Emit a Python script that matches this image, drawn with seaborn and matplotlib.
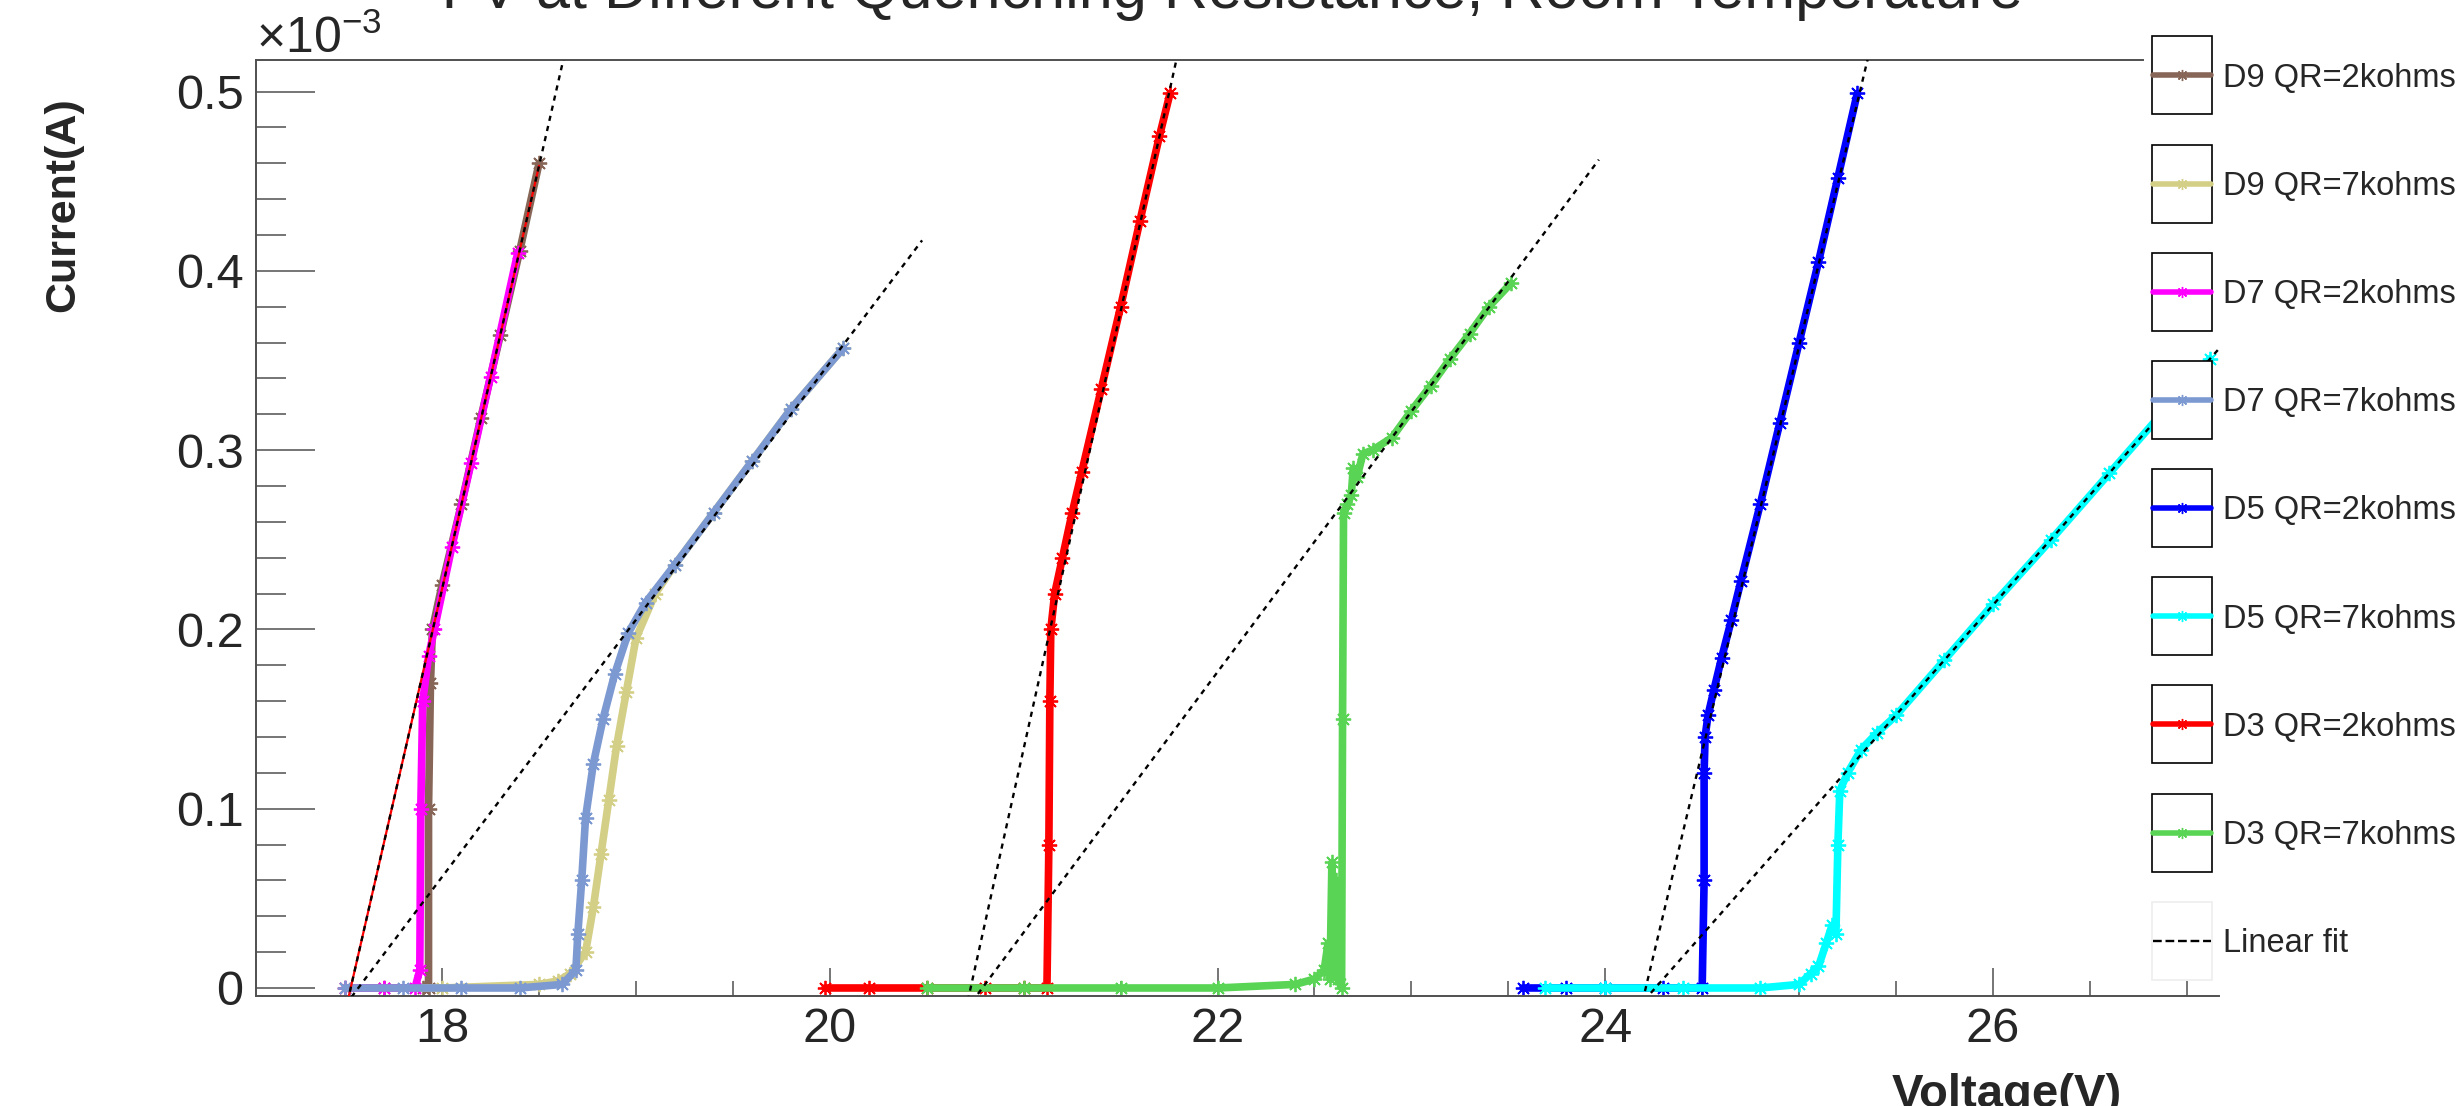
import numpy as np
import pandas as pd
import matplotlib
matplotlib.use("Agg")
import matplotlib.pyplot as plt
import seaborn as sns
from matplotlib.patches import Rectangle
from matplotlib.lines import Line2D
from matplotlib.legend_handler import HandlerBase

sns.set_theme(style="ticks")
plt.rcParams['font.family'] = ['Liberation Sans', 'DejaVu Sans']
plt.rcParams['mathtext.fontset'] = 'custom'
plt.rcParams['mathtext.rm'] = 'Liberation Sans'

# I-V data (voltage in V, current in mA)
d9_2k_v = [17.50, 17.70, 17.90, 17.93, 17.93, 17.94, 17.95, 18.00, 18.10, 18.20, 18.30, 18.40, 18.50]
d9_2k_i = [0.000, 0.000, 0.000, 0.000, 0.100, 0.170, 0.200, 0.225, 0.270, 0.318, 0.364, 0.411, 0.460]

d9_7k_v = [17.50, 18.00, 18.50, 18.60, 18.66, 18.74, 18.78, 18.82, 18.86, 18.90, 18.95, 19.00, 19.10, 19.20, 19.40, 19.60, 19.80, 20.07]
d9_7k_i = [0.000, 0.000, 0.002, 0.004, 0.008, 0.020, 0.045, 0.075, 0.105, 0.135, 0.165, 0.195, 0.220, 0.236, 0.265, 0.294, 0.323, 0.357]

d7_2k_v = [17.50, 17.70, 17.86, 17.885, 17.89, 17.90, 17.93, 17.96, 18.05, 18.15, 18.25, 18.39]
d7_2k_i = [0.000, 0.000, 0.000, 0.010, 0.100, 0.160, 0.185, 0.200, 0.246, 0.293, 0.341, 0.410]

d7_7k_v = [17.50, 17.80, 18.10, 18.40, 18.62, 18.69, 18.70, 18.72, 18.74, 18.78, 18.83, 18.89, 18.96, 19.05, 19.20, 19.40, 19.60, 19.80, 20.07]
d7_7k_i = [0.000, 0.000, 0.000, 0.000, 0.002, 0.010, 0.030, 0.060, 0.095, 0.125, 0.150, 0.175, 0.198, 0.215, 0.236, 0.265, 0.294, 0.323, 0.357]

d5_2k_v = [23.575, 23.80, 24.00, 24.30, 24.50, 24.51, 24.51, 24.515, 24.53, 24.56, 24.60, 24.65, 24.70, 24.80, 24.90, 25.00, 25.10, 25.20, 25.30]
d5_2k_i = [0.000, 0.000, 0.000, 0.000, 0.000, 0.060, 0.120, 0.140, 0.152, 0.166, 0.184, 0.205, 0.227, 0.270, 0.315, 0.360, 0.405, 0.452, 0.499]

d5_7k_v = [23.69, 24.00, 24.40, 24.80, 25.00, 25.06, 25.10, 25.14, 25.17, 25.19, 25.20, 25.21, 25.25, 25.32, 25.40, 25.50, 25.75, 26.00, 26.30, 26.60, 26.90, 27.12]
d5_7k_i = [0.000, 0.000, 0.000, 0.000, 0.002, 0.008, 0.012, 0.025, 0.035, 0.030, 0.080, 0.110, 0.120, 0.133, 0.142, 0.152, 0.183, 0.214, 0.250, 0.287, 0.324, 0.351]

d3_2k_v = [19.975, 20.20, 20.50, 20.80, 21.00, 21.12, 21.13, 21.135, 21.14, 21.16, 21.20, 21.25, 21.30, 21.40, 21.50, 21.60, 21.70, 21.755]
d3_2k_i = [0.000, 0.000, 0.000, 0.000, 0.000, 0.000, 0.080, 0.160, 0.200, 0.220, 0.240, 0.265, 0.288, 0.334, 0.380, 0.428, 0.475, 0.499]

d3_7k_v = [20.50, 21.00, 21.50, 22.00, 22.40, 22.50, 22.55, 22.57, 22.58, 22.59, 22.60, 22.61, 22.62, 22.64, 22.645, 22.65, 22.67, 22.69, 22.70, 22.72, 22.75, 22.80, 22.90, 23.00, 23.10, 23.20, 23.30, 23.40, 23.513]
d3_7k_i = [0.000, 0.000, 0.000, 0.000, 0.002, 0.005, 0.010, 0.025, 0.005, 0.070, 0.010, 0.060, 0.005, 0.000, 0.150, 0.265, 0.270, 0.275, 0.290, 0.285, 0.298, 0.300, 0.307, 0.322, 0.336, 0.351, 0.365, 0.380, 0.393]

labels = ["D9 QR=2kohms", "D9 QR=7kohms", "D7 QR=2kohms", "D7 QR=7kohms",
          "D5 QR=2kohms", "D5 QR=7kohms", "D3 QR=2kohms", "D3 QR=7kohms"]
colors = ["#876657", "#d4cf87", "#ff00ff", "#7d99d1", "#0000ff", "#00ffff", "#ff0000", "#59d454"]
volts = [d9_2k_v, d9_7k_v, d7_2k_v, d7_7k_v, d5_2k_v, d5_7k_v, d3_2k_v, d3_7k_v]
amps = [d9_2k_i, d9_7k_i, d7_2k_i, d7_7k_i, d5_2k_i, d5_7k_i, d3_2k_i, d3_7k_i]

# linear fits (end points)
fit_v = [[17.50, 18.70], [17.50, 20.476], [20.70, 21.85], [20.70, 23.967], [24.18, 25.40], [24.20, 27.30]]
fit_i = [[-0.0134, 0.553], [-0.0097, 0.417], [-0.0128, 0.548], [-0.0126, 0.462], [-0.013, 0.539], [-0.0071, 0.373]]
red_fit_v = [17.50, 18.50]
red_fit_i = [-0.0134, 0.4586]

fig = plt.figure(figsize=(24.63, 11.06), dpi=100)
ax = fig.add_axes([0.10394, 0.09973, 0.79699, 0.84602])

star = (8, 2, 0)
dots = (0, (2.2, 2.2))
for v, a, c in zip(volts, amps, colors):
    sns.lineplot(x=v, y=a, ax=ax, color=c, sort=False, estimator=None, linewidth=5.5,
                 marker=star, markersize=11, markeredgecolor=c, markeredgewidth=1.3)

ax.plot(red_fit_v, red_fit_i, color="red", linewidth=1.6, zorder=5)
for v, a in zip(fit_v, fit_i):
    ax.plot(v, a, color="black", linewidth=1.7, linestyle=dots, zorder=6)

ax.set_xlim(17.04, 27.166)
ax.set_ylim(-0.0043, 0.5176)
ax.set_xticks([18, 20, 22, 24, 26])
ax.set_xticks(np.arange(17.5, 27.01, 0.5), minor=True)
ax.set_yticks([0, 0.1, 0.2, 0.3, 0.4, 0.5])
ax.set_yticks(np.arange(0, 0.5001, 0.02), minor=True)
ax.set_yticklabels(["0", "0.1", "0.2", "0.3", "0.4", "0.5"])
ax.set_xlabel("")
ax.set_ylabel("")

axis_col = "#505050"
ax.tick_params(axis="x", which="major", direction="in", length=20, width=1.1, color=axis_col,
               labelsize=35, pad=8)
ax.tick_params(axis="x", which="minor", direction="in", length=10.8, width=1.1, color=axis_col)
ax.tick_params(axis="y", which="major", direction="in", length=42.5, width=1.1, color=axis_col,
               labelsize=35, pad=9)
ax.tick_params(axis="y", which="minor", direction="in", length=21.6, width=1.1, color=axis_col)

for s in ["left", "bottom", "top"]:
    ax.spines[s].set_color(axis_col)
    ax.spines[s].set_linewidth(1.4)
ax.spines["right"].set_visible(False)
ax.spines["top"].set_bounds(17.04, 26.772)

fig.text(256 / 2463, 1 - 53 / 1106, r"$\times10^{-3}$", fontsize=36, ha="left", va="baseline")
fig.text(0.5, 1 - 8 / 1106, "I-V at Different Quenching Resistance, Room Temperature",
         fontsize=44, ha="center", va="baseline")
fig.text(63 / 2463, 1 - 97 / 1106, "Current(A)", fontsize=31, fontweight="bold",
         rotation=90, ha="center", va="top")
fig.text(2122 / 2463, -0.001, "Voltage(V)", fontsize=34, fontweight="bold",
         ha="right", va="baseline")


# legend entry: framed box with the line sample through its middle (ROOT style)
class BoxedLine(HandlerBase):
    def create_artists(self, legend, orig_handle, xdescent, ydescent, width, height,
                       fontsize, trans):
        yc = 0.35 * fontsize
        bh = 2.39 * fontsize
        edge = getattr(orig_handle, "box_edge", "black")
        box = Rectangle((-xdescent, yc - bh / 2), width, bh, facecolor="white",
                        edgecolor=edge, linewidth=1.2, transform=trans)
        ln = Line2D([-xdescent + 1, -xdescent + width - 1], [yc, yc],
                    color=orig_handle.get_color(), linewidth=orig_handle.get_linewidth(),
                    linestyle=orig_handle.get_linestyle(), transform=trans)
        mk = Line2D([-xdescent + width / 2], [yc], color=orig_handle.get_color(),
                    marker=orig_handle.get_marker(), markersize=orig_handle.get_markersize(),
                    markeredgewidth=1, linestyle="none", transform=trans)
        arts = [box, ln]
        if orig_handle.get_marker() not in (None, "None", "none", ""):
            arts.append(mk)
        return arts


handles = []
for c in colors:
    h = Line2D([], [], color=c, linewidth=4, marker=star, markersize=8)
    h.box_edge = "black"
    handles.append(h)
h = Line2D([], [], color="black", linewidth=1.7, linestyle=dots)
h.box_edge = "#eeeeee"
handles.append(h)

leg = fig.legend(handles, labels + ["Linear fit"], handler_map={Line2D: BoxedLine()},
                 loc="upper left", bbox_to_anchor=(2152 / 2463, 1 - 47.5 / 1106),
                 frameon=False, fontsize=23.5, handlelength=1.84, handleheight=2.39,
                 labelspacing=1.515, handletextpad=0.34, borderpad=0, borderaxespad=0)

fig.savefig("out.png", dpi=100)
